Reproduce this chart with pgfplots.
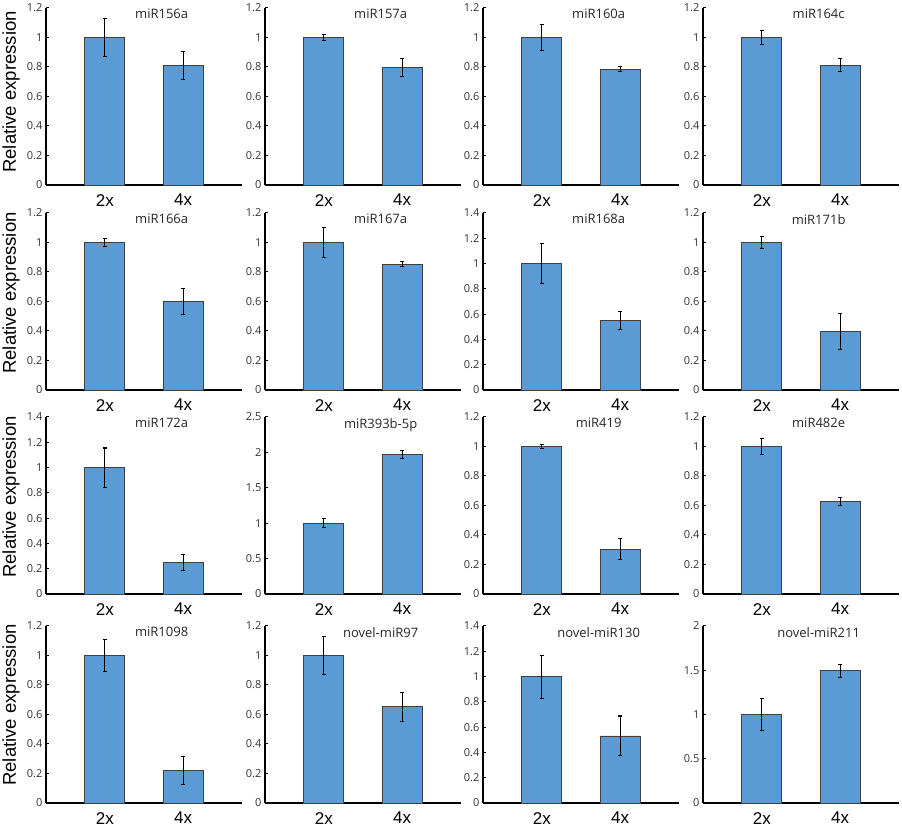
\documentclass[border=0pt]{standalone}
\usepackage{pgfplots}
\pgfplotsset{compat=1.18}
\usepackage{fontspec}
\setmainfont{Liberation Sans}
\newfontfamily\tickfont{Open Sans}
\definecolor{barblue}{RGB}{91,155,213}

\pgfplotsset{panel/.style={
  scale only axis, width=196pt, height=177pt, anchor=south west,
  xmin=0, xmax=1, ymin=0, enlarge y limits=false,
  axis x line=bottom, axis y line=left,
  axis line style={-, line width=1.4pt, black},
  xtick={0.3,0.7}, xticklabels={2x,4x}, xtick style={draw=none},
  ytick style={line width=1pt, black}, tick align=inside, major tick length=2.5pt,
  xticklabel style={font=\fontsize{17}{17}\selectfont, inner sep=0pt, yshift=-9pt},
  yticklabel style={font=\fontsize{11}{12}\tickfont, text=black!80, inner sep=0pt, xshift=-3.5pt},
  /pgf/number format/assume math mode=true,
  clip=false,
}}

\newcommand{\panel}[9]{%
  \begin{axis}[panel, at={(#1pt,#2pt)}, ymax=#4, ytick distance=#5]
    \addplot[ybar, bar width=40pt, fill=barblue, draw=black!75, line width=0.7pt,
      error bars/.cd, y dir=both, y explicit,
      error bar style={line width=1.2pt, black},
      error mark options={rotate=90, line width=1.1pt, mark size=2.2pt, black}]
      coordinates {(0.3,#6) +- (0,#7) (0.7,#8) +- (0,#9)};
    \node[anchor=north, inner sep=0pt, yshift=-1pt, font=\fontsize{13}{13}\tickfont, text=black!85]
      at (rel axis cs:0.59,1) {#3};
  \end{axis}}

\begin{document}
\begin{tikzpicture}
\path[use as bounding box] (0,0) rectangle (902pt,827pt);
% row 1
\panel{46}{642}{miR156a}{1.2}{0.2}{1.00}{0.128}{0.81}{0.093}
\panel{265}{642}{miR157a}{1.2}{0.2}{1.00}{0.022}{0.795}{0.06}
\panel{483}{642}{miR160a}{1.2}{0.2}{1.00}{0.09}{0.785}{0.017}
\panel{703}{642}{miR164c}{1.2}{0.2}{1.00}{0.045}{0.812}{0.045}
% row 2
\panel{46}{437}{miR166a}{1.2}{0.2}{1.00}{0.028}{0.60}{0.087}
\panel{265}{437}{miR167a}{1.2}{0.2}{1.00}{0.10}{0.853}{0.017}
\panel{483}{437}{miR168a}{1.4}{0.2}{1.00}{0.158}{0.55}{0.068}
\panel{703}{437}{miR171b}{1.2}{0.2}{1.00}{0.038}{0.397}{0.123}
% row 3
\panel{46}{233}{miR172a}{1.4}{0.2}{1.00}{0.155}{0.247}{0.062}
\panel{265}{233}{miR393b-5p}{2.5}{0.5}{1.00}{0.06}{1.975}{0.055}
\panel{483}{233}{miR419}{1.2}{0.2}{1.00}{0.011}{0.305}{0.071}
\panel{703}{233}{miR482e}{1.2}{0.2}{1.00}{0.053}{0.628}{0.027}
% row 4
\panel{46}{24}{miR1098}{1.2}{0.2}{1.00}{0.11}{0.223}{0.095}
\panel{265}{24}{novel-miR97}{1.2}{0.2}{1.00}{0.13}{0.653}{0.099}
\panel{483}{24}{novel-miR130}{1.4}{0.2}{1.00}{0.17}{0.531}{0.157}
\panel{703}{24}{novel-miR211}{2}{0.5}{1.00}{0.176}{1.496}{0.074}
% y labels
\foreach \yy in {735,534,330,122}{
  \node[rotate=90, font=\fontsize{18.5}{18.5}\selectfont] at (11pt,\yy pt) {Relative expression};
}
\end{tikzpicture}
\end{document}
